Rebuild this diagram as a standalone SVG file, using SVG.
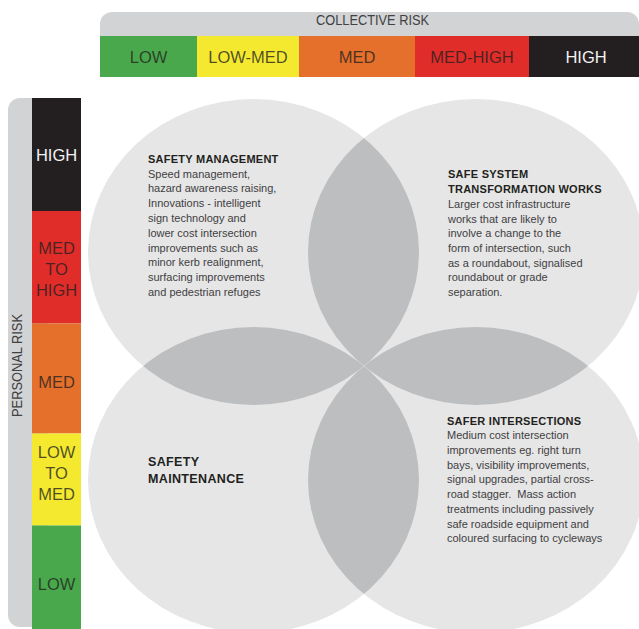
<svg xmlns="http://www.w3.org/2000/svg" width="639" height="629" viewBox="0 0 639 629">
<style>
.tab{fill:#d1d3d4}
.axis{font-family:"Liberation Sans",Arial,sans-serif;font-size:14px;fill:#414042}
.band{font-family:"Liberation Sans",Arial,sans-serif;font-size:16.5px;text-anchor:middle}
.dk{fill:#231f20;fill-opacity:0.78}
.wt{fill:#f2f2f2}
.circle{fill:#e6e6e6}
.lens{fill:#bcbec0}
.ttl{font-family:"Liberation Sans",Arial,sans-serif;font-size:11px;font-weight:bold;fill:#231f20;letter-spacing:0.25px}
.body{font-family:"Liberation Sans",Arial,sans-serif;font-size:11px;fill:#414042;white-space:pre}
</style>
<defs>
<clipPath id="cTL"><ellipse cx="253.5" cy="252" rx="165.5" ry="153"/></clipPath>
<clipPath id="cBR"><ellipse cx="476" cy="480" rx="168" ry="153"/></clipPath>
</defs>
<rect width="639" height="629" fill="#ffffff"/>

<g id="collective-risk">
<rect class="tab" x="100" y="12" width="539" height="40" rx="12"/>
<rect x="100" y="36" width="97" height="41" fill="#48a84b"/>
<rect x="197" y="36" width="102" height="41" fill="#f4e92f"/>
<rect x="299" y="36" width="116" height="41" fill="#e5702b"/>
<rect x="415" y="36" width="114" height="41" fill="#e12d2a"/>
<rect x="529" y="36" width="110" height="41" fill="#231f20"/>
<text class="axis" x="372.5" y="25" text-anchor="middle" textLength="113" lengthAdjust="spacingAndGlyphs">COLLECTIVE RISK</text>
<text class="band dk" x="148.5" y="63">LOW</text>
<text class="band dk" x="248" y="63">LOW-MED</text>
<text class="band dk" x="357" y="63">MED</text>
<text class="band dk" x="472" y="63">MED-HIGH</text>
<text class="band wt" x="586" y="63">HIGH</text>
</g>

<g id="personal-risk">
<rect class="tab" x="8" y="98" width="40" height="529" rx="12"/>
<rect x="32" y="98" width="49" height="113" fill="#231f20"/>
<rect x="32" y="211" width="49" height="112.5" fill="#e12d2a"/>
<rect x="32" y="323.5" width="49" height="110" fill="#e5702b"/>
<rect x="32" y="433.5" width="49" height="92" fill="#f4e92f"/>
<rect x="32" y="525.5" width="49" height="103.5" fill="#48a84b"/>
<text class="axis" transform="translate(21.5,365.5) rotate(-90)" text-anchor="middle" textLength="103" lengthAdjust="spacingAndGlyphs">PERSONAL RISK</text>
<text class="band wt" x="56.5" y="161">HIGH</text>
<text class="band dk" x="56.5" y="253.5">MED</text>
<text class="band dk" x="56.5" y="274.5">TO</text>
<text class="band dk" x="56.5" y="296">HIGH</text>
<text class="band dk" x="56.5" y="388">MED</text>
<text class="band dk" x="56.5" y="457.5">LOW</text>
<text class="band dk" x="56.5" y="478.5">TO</text>
<text class="band dk" x="56.5" y="500">MED</text>
<text class="band dk" x="56.5" y="590">LOW</text>
</g>

<g id="circles">
<ellipse class="circle" cx="253.5" cy="252" rx="165.5" ry="153"/>
<ellipse class="circle" cx="476" cy="252" rx="168" ry="153"/>
<ellipse class="circle" cx="253.5" cy="480" rx="165.5" ry="153"/>
<ellipse class="circle" cx="476" cy="480" rx="168" ry="153"/>
</g>

<g id="overlaps">
<ellipse class="lens" clip-path="url(#cTL)" cx="476" cy="252" rx="168" ry="153"/>
<ellipse class="lens" clip-path="url(#cTL)" cx="253.5" cy="480" rx="165.5" ry="153"/>
<ellipse class="lens" clip-path="url(#cBR)" cx="476" cy="252" rx="168" ry="153"/>
<ellipse class="lens" clip-path="url(#cBR)" cx="253.5" cy="480" rx="165.5" ry="153"/>
</g>

<g id="safety-management">
<text class="ttl" x="148" y="163">SAFETY MANAGEMENT</text>
<text class="body" x="148" y="177.5">Speed management,</text>
<text class="body" x="148" y="192.3">hazard awareness raising,</text>
<text class="body" x="148" y="207.1">Innovations - intelligent</text>
<text class="body" x="148" y="221.9">sign technology and</text>
<text class="body" x="148" y="236.7">lower cost intersection</text>
<text class="body" x="148" y="251.5">improvements such as</text>
<text class="body" x="148" y="266.3">minor kerb realignment,</text>
<text class="body" x="148" y="281.1">surfacing improvements</text>
<text class="body" x="148" y="296">and pedestrian refuges</text>
</g>

<g id="safe-system-transformation-works">
<text class="ttl" x="448" y="178">SAFE SYSTEM</text>
<text class="ttl" x="448" y="193">TRANSFORMATION WORKS</text>
<text class="body" x="448" y="208">Larger cost infrastructure</text>
<text class="body" x="448" y="222.7">works that are likely to</text>
<text class="body" x="448" y="237.4">involve a change to the</text>
<text class="body" x="448" y="252">form of intersection, such</text>
<text class="body" x="448" y="266.7">as a roundabout, signalised</text>
<text class="body" x="448" y="281.4">roundabout or grade</text>
<text class="body" x="448" y="296">separation.</text>
</g>

<g id="safety-maintenance">
<text class="ttl" x="148" y="466" style="font-size:12.5px;letter-spacing:0.35px">SAFETY</text>
<text class="ttl" x="148" y="483" style="font-size:12.5px;letter-spacing:0.35px">MAINTENANCE</text>
</g>

<g id="safer-intersections">
<text class="ttl" x="447" y="425">SAFER INTERSECTIONS</text>
<text class="body" x="447" y="439">Medium cost intersection</text>
<text class="body" x="447" y="453.8">improvements eg. right turn</text>
<text class="body" x="447" y="468.5">bays, visibility improvements,</text>
<text class="body" x="447" y="483.3">signal upgrades, partial cross-</text>
<text class="body" x="447" y="498">road stagger.  Mass action</text>
<text class="body" x="447" y="512.8">treatments including passively</text>
<text class="body" x="447" y="527.5">safe roadside equipment and</text>
<text class="body" x="447" y="542.3">coloured surfacing to cycleways</text>
</g>
</svg>
